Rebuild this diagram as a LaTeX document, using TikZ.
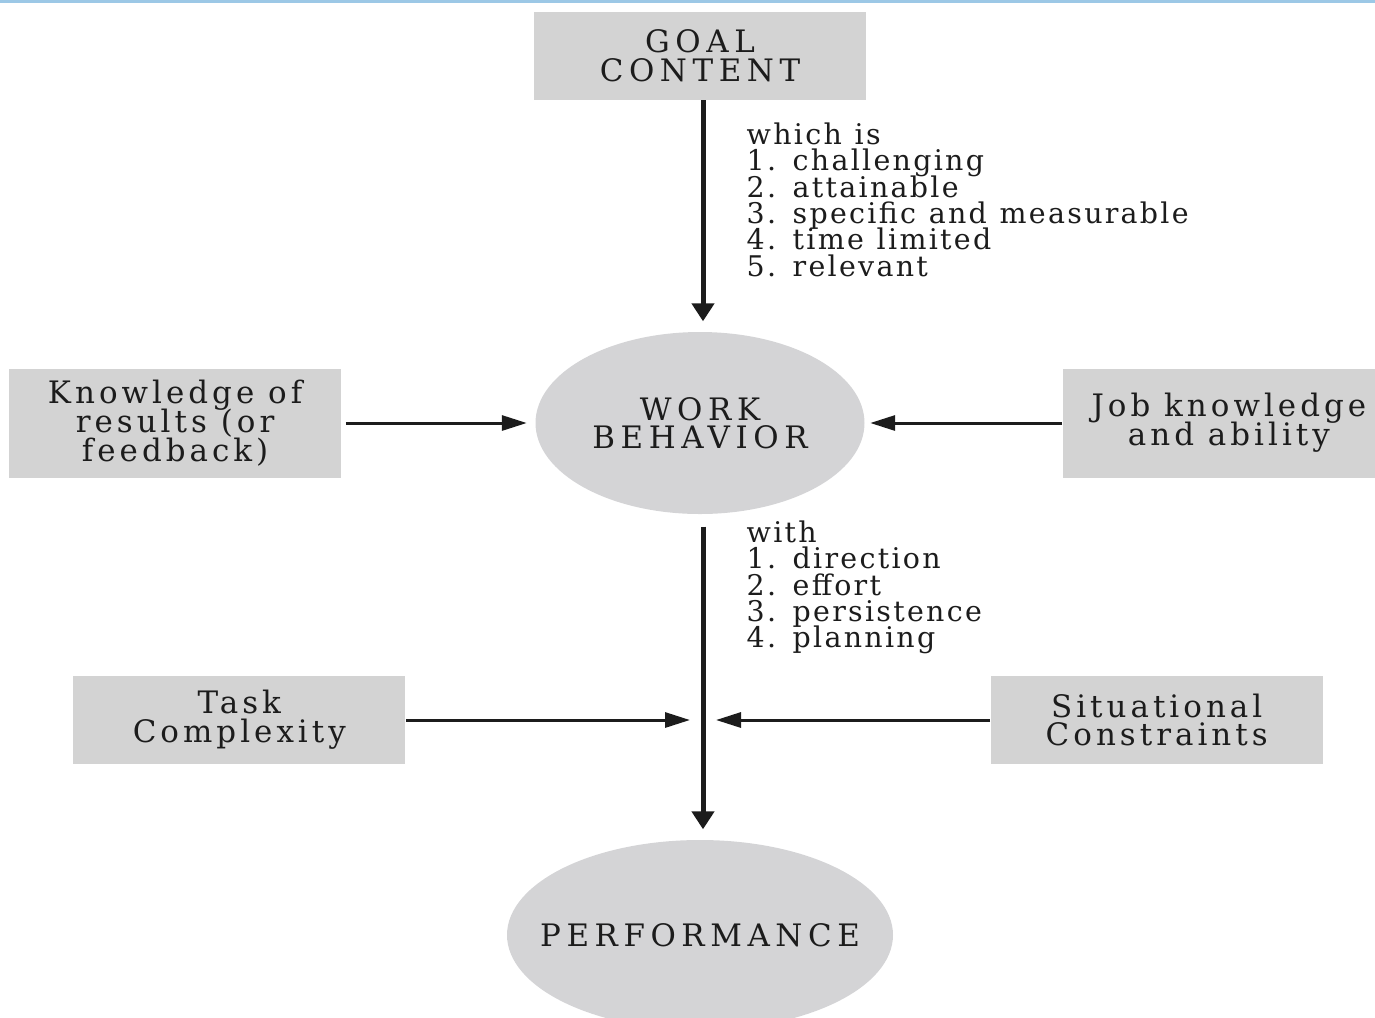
\documentclass[tikz,border=0pt]{standalone}
\usepackage{fontspec}
\setmainfont{DejaVu Serif}[LetterSpace=8]
\newfontfamily\boxfont{DejaVu Serif}[LetterSpace=13]
\newfontfamily\capfont{DejaVu Serif}[LetterSpace=18]
\usetikzlibrary{arrows.meta,positioning,shapes.geometric}
\definecolor{boxgray}{HTML}{D3D3D3}
\definecolor{ovalgray}{HTML}{D4D4D6}
\definecolor{ink}{HTML}{1C1C1C}
\definecolor{rulecyan}{HTML}{9CC8E6}
\newcommand\tightlines{\lineskiplimit=-20pt\lineskip=0pt\relax}
\newcommand\widespaces{\spaceskip=0.45em plus 0.1em\relax}

\begin{document}
\begin{tikzpicture}[x=0.1mm,y=-0.1mm,node distance=20mm and 20mm,font=\fontsize{8}{8.3}\selectfont,text=ink]
\tikzset{box/.style={fill=boxgray,minimum width=33.2mm,minimum height=8.8mm,align=center,inner sep=0pt,font=\boxfont\fontsize{8.8}{8.2}\selectfont\tightlines},
  capbox/.style={box,font=\capfont\fontsize{8.8}{8.1}\selectfont\tightlines},
  oval/.style={ellipse,fill=ovalgray,align=center,inner sep=0pt,font=\capfont\fontsize{8.8}{8.1}\selectfont\tightlines},
  bigarrow/.style={-{Triangle[length=1.8mm,width=2.2mm]},line width=0.5mm,draw=ink},
  smallarrow/.style={-{Triangle[length=2.5mm,width=1.5mm]},line width=0.3mm,draw=ink},
  notes/.style={align=left,anchor=north west,inner sep=0pt,font=\fontsize{8.1}{7.5}\selectfont\tightlines\widespaces}}
\useasboundingbox (0,0) rectangle (1375,1017);
\clip (0,0) rectangle (1375,1017);
\draw[rulecyan,line width=0.3mm] (0,1.5) -- (1375,1.5);
% middle row
\node[oval,minimum width=32.9mm,minimum height=18.2mm] (work) at (700,423) {WORK\\BEHAVIOR};
\node[capbox,above=23.1mm of work] (goal) {GOAL\\CONTENT};
\node[box,minimum height=10.9mm,left=19.3mm of work] (results) {Knowledge of\\results (or\\feedback)};
\node[box,minimum height=10.9mm,right=19.7mm of work] (job) {Job knowledge\\and ability};
% lower part
\coordinate (join) at (703,720);
\node[box,left=29.7mm of join] (task) {Task\\Complexity};
\node[box,right=28.7mm of join] (constraints) {Situational\\Constraints};
\node[oval,minimum width=38.6mm,minimum height=19mm] (perf) at (700,935) {\makebox[0pt]{PERFORMANCE}};
\node[notes] (goalprops) at (746,122) {which is\\1. challenging\\2. attainable\\3. specific and measurable\\4. time limited\\5. relevant};
\node[notes] (workprops) at (746,520) {with\\1. direction\\2. effort\\3. persistence\\4. planning};
\draw[bigarrow,shorten >=1mm] (goal.south -| join) -- (work.north -| join);
\draw[bigarrow,shorten <=1.2mm,shorten >=1mm] (work.south -| join) -- (perf.north -| join);
\draw[smallarrow,shorten <=0.4mm,shorten >=0.8mm] (results) -- (work);
\draw[smallarrow,shorten >=0.5mm] (job) -- (work);
\draw[smallarrow,shorten >=1.3mm] (task) -- (join);
\draw[smallarrow,shorten >=1.3mm] (constraints) -- (join);
\end{tikzpicture}
\end{document}
